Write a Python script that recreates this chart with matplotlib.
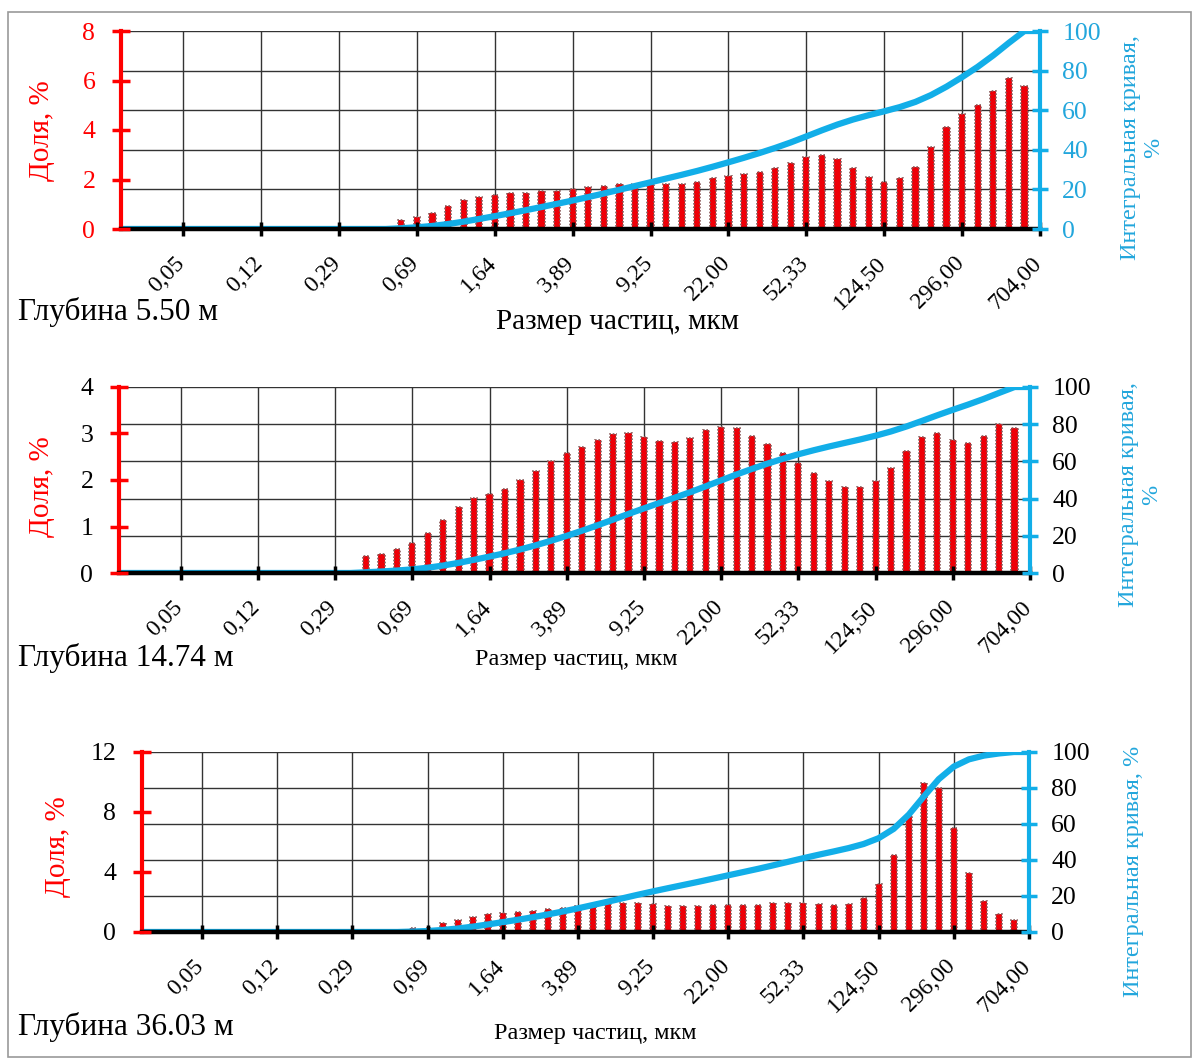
import numpy as np
import matplotlib
matplotlib.use("Agg")
import matplotlib.pyplot as plt
from matplotlib.transforms import ScaledTranslation
from matplotlib.patches import Rectangle

plt.rcParams["font.family"] = ["Liberation Serif", "DejaVu Serif"]

# ---- data: particle-size fractions (%) for 60 size classes ----
size_labels = ["0,05", "0,12", "0,29", "0,69", "1,64", "3,89", "9,25",
               "22,00", "52,33", "124,50", "296,00", "704,00"]
label_index = [4, 9, 14, 19, 24, 29, 34, 39, 44, 49, 54, 59]

share_5_50 = [0.0] * 18 + [
    0.36, 0.47, 0.66, 0.93, 1.17, 1.31, 1.37, 1.44, 1.47, 1.55,
    1.55, 1.62, 1.68, 1.74, 1.82, 1.82, 1.82, 1.82, 1.82, 1.91,
    2.05, 2.14, 2.21, 2.32, 2.48, 2.68, 2.92, 2.99, 2.81, 2.45,
    2.09, 1.91, 2.05, 2.52, 3.33, 4.11, 4.65, 5.01, 5.59, 6.09,
    5.79, 0.0]

share_14_74 = [0.0] * 16 + [
    0.37, 0.41, 0.51, 0.64, 0.87, 1.14, 1.43, 1.61, 1.69, 1.80,
    1.99, 2.19, 2.41, 2.57, 2.72, 2.86, 2.99, 3.00, 2.93, 2.84,
    2.81, 2.90, 3.08, 3.15, 3.11, 2.95, 2.77, 2.57, 2.37, 2.14,
    1.98, 1.86, 1.84, 1.98, 2.25, 2.62, 2.92, 3.00, 2.87, 2.79,
    2.95, 3.20, 3.11, 0.0]

share_36_03 = [0.0] * 18 + [
    0.24, 0.30, 0.58, 0.80, 1.02, 1.20, 1.29, 1.31, 1.40, 1.53,
    1.62, 1.73, 1.84, 1.84, 1.91, 1.91, 1.84, 1.76, 1.73, 1.73,
    1.80, 1.80, 1.80, 1.80, 1.91, 1.96, 1.96, 1.87, 1.80, 1.87,
    2.24, 3.20, 5.13, 7.80, 9.96, 9.58, 6.91, 3.96, 2.07, 1.18,
    0.80, 0.0]

depths = ["Глубина 5.50 м", "Глубина 14.74 м", "Глубина 36.03 м"]

# ---- styling ----
W, H = 1198, 1061
RED = "#ff0000"
BAR = "#ee0008"
CYAN = "#12aee8"
CYAN_TXT = "#22a6dc"
GRID = "#333333"

fig = plt.figure(figsize=(W / 100, H / 100), dpi=100)
fig.patch.set_facecolor("white")
fig.patches.append(Rectangle((8 / W, 1 - 1057 / H), (1191 - 8) / W, (1057 - 12) / H,
                             transform=fig.transFigure, fill=False,
                             edgecolor="#9a9a9a", linewidth=1.2))


def fx(x):
    return x / W


def fy(y):
    return 1 - y / H


def draw_panel(box, vals, ymax, ystep, left_tick_col, right_tick_col,
               depth, depth_y, xlab_xy, xlab_size, ylab_xy, rlab_xy,
               rlab_text):
    l, r, t, b = box
    ax = fig.add_axes([fx(l), fy(b), (r - l) / W, (b - t) / H])
    vals = np.asarray(vals, dtype=float)
    x = np.arange(len(vals))
    ax.set_xlim(0, len(vals) - 1)
    ax.set_ylim(0, ymax)

    # grid: horizontal lines follow the 0..100 scale, vertical at labelled classes
    for k in range(1, 6):
        ax.axhline(ymax * k / 5, color=GRID, lw=1.0, zorder=0)
    for i in label_index[:-1]:
        ax.axvline(i, color=GRID, lw=1.0, zorder=0)

    ax.bar(x, vals, width=0.40, color=BAR, edgecolor="#8a5a5a",
           linewidth=1.2, linestyle=(0, (1, 1)), zorder=2)

    cum = np.cumsum(vals)
    cum = cum / cum[-1] * 100.0
    ax.plot(x, cum * ymax / 100.0, color=CYAN, lw=4.5, zorder=3,
            solid_joinstyle="round", solid_capstyle="butt")

    for s in ("top", "right"):
        ax.spines[s].set_visible(False)
    ax.spines["left"].set_color(RED)
    ax.spines["left"].set_linewidth(3.0)
    ax.spines["left"].set_zorder(5)
    ax.spines["bottom"].set_color("black")
    ax.spines["bottom"].set_linewidth(3.2)
    ax.spines["bottom"].set_zorder(5)

    ticks = np.arange(0, ymax + 0.001, ystep)
    ax.set_yticks(ticks)
    ax.set_yticklabels([f"{v:g}" for v in ticks])
    ax.tick_params(axis="y", direction="inout", length=13, width=2.5,
                   color=RED, labelcolor=left_tick_col, labelsize=18.5, pad=12)

    ax.set_xticks(label_index)
    ax.set_xticklabels(size_labels, rotation=45, ha="right", va="top",
                       fontsize=17)
    ax.tick_params(axis="x", direction="inout", length=10, width=2.5,
                   color="black", pad=12)
    ax.xaxis.set_zorder(6)
    ax.yaxis.set_zorder(6)
    shift = ScaledTranslation(6 / 100, 0, fig.dpi_scale_trans)
    for lab in ax.get_xticklabels():
        lab.set_transform(lab.get_transform() + shift)

    ax2 = ax.twinx()
    ax2.set_ylim(0, 100)
    for s in ("top", "left", "bottom"):
        ax2.spines[s].set_visible(False)
    ax2.spines["right"].set_color(CYAN)
    ax2.spines["right"].set_linewidth(3.0)
    ax2.set_yticks(np.arange(0, 101, 20))
    ax2.tick_params(axis="y", direction="inout", length=12, width=2.5,
                    color=CYAN, labelcolor=right_tick_col, labelsize=18.5, pad=10)

    fig.text(fx(18), fy(depth_y), depth, fontsize=22.5, ha="left",
             va="center", color="black")
    fig.text(fx(xlab_xy[0]), fy(xlab_xy[1]), "Размер частиц, мкм",
             fontsize=xlab_size, ha="center", va="center", color="black")
    fig.text(fx(ylab_xy[0]), fy(ylab_xy[1]), "Доля, %", fontsize=21,
             rotation=90, ha="center", va="center", color=RED)
    fig.text(fx(rlab_xy[0]), fy(rlab_xy[1]), rlab_text, fontsize=17.5,
             rotation=90, ha="center", va="center", color=CYAN_TXT,
             multialignment="center", linespacing=1.15)


draw_panel((121, 1040, 31, 229), share_5_50, 8, 2, RED, CYAN_TXT,
           depths[0], 312, (617, 322), 21, (42, 131), (1142, 148),
           "Интегральная кривая,\n%")
draw_panel((119, 1030, 387, 573), share_14_74, 4, 1, "black", "black",
           depths[1], 658, (576, 659), 17.5, (42, 487), (1140, 495),
           "Интегральная кривая,\n%")
draw_panel((142, 1029, 752, 932), share_36_03, 12, 4, "black", "black",
           depths[2], 1027, (595, 1033), 17.5, (58, 847), (1133, 871),
           "Интегральная кривая, %")

fig.savefig("out.png", dpi=100, facecolor="white")
